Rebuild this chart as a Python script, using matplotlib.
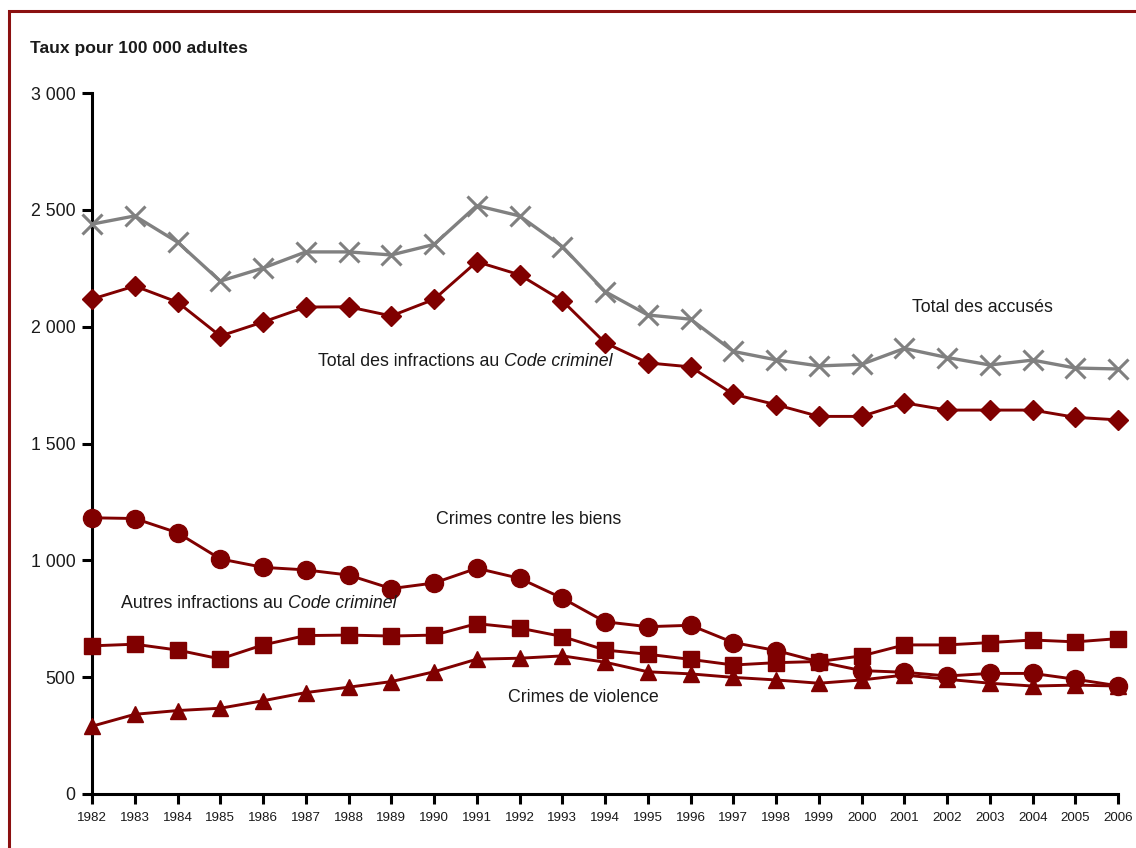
import matplotlib
import matplotlib.pyplot as plt
from matplotlib.patches import Rectangle
from matplotlib.ticker import FuncFormatter

matplotlib.use("Agg")

years = list(range(1982, 2007))

total_accuses = [2439, 2474, 2362, 2195, 2251, 2320, 2320, 2307, 2352, 2518,
                 2474, 2343, 2150, 2050, 2032, 1894, 1858, 1832, 1839, 1907,
                 1868, 1836, 1857, 1823, 1819]
total_code_criminel = [2118, 2174, 2105, 1960, 2020, 2084, 2085, 2046, 2117, 2278,
                       2222, 2111, 1931, 1845, 1828, 1711, 1666, 1616, 1616, 1674,
                       1643, 1643, 1643, 1612, 1601]
crimes_biens = [1182, 1179, 1118, 1006, 970, 959, 937, 879, 903, 966,
                923, 838, 737, 716, 722, 648, 614, 566, 528, 521,
                505, 516, 516, 491, 463]
autres_infractions = [634, 641, 616, 578, 638, 678, 680, 676, 680, 729,
                      710, 674, 616, 598, 576, 552, 562, 567, 591, 638,
                      638, 648, 659, 651, 665]
crimes_violence = [290, 341, 357, 367, 399, 434, 457, 481, 523, 577,
                   581, 591, 564, 523, 514, 499, 488, 474, 488, 509,
                   491, 474, 462, 466, 462]

y_ticks = [0, 500, 1000, 1500, 2000, 2500, 3000]

RED = "#800000"
GREY = "#808080"
TXT = "#1a1a1a"
LBL = 12.8  # taille des étiquettes de séries

plt.rcParams["font.family"] = ["Liberation Sans Narrow", "Liberation Sans", "DejaVu Sans"]

fig = plt.figure(figsize=(11.36, 8.48), dpi=100)
ax = fig.add_axes([0.081, 0.0637, 0.9033, 0.8266])

# séries
ax.plot(years, total_accuses, color=GREY, lw=2.4, marker="x", ms=14, mew=2.2, clip_on=False, zorder=3)
ax.plot(years, total_code_criminel, color=RED, lw=2.1, marker="D", ms=10, clip_on=False, zorder=3)
ax.plot(years, crimes_biens, color=RED, lw=2.1, marker="o", ms=13, clip_on=False, zorder=3)
ax.plot(years, autres_infractions, color=RED, lw=2.1, marker="s", ms=11, clip_on=False, zorder=3)
ax.plot(years, crimes_violence, color=RED, lw=2.1, marker="^", ms=12, clip_on=False, zorder=3)

ax.set_xlim(1982, 2006)
ax.set_ylim(0, 3000)
ax.set_xticks(years)
ax.set_xticklabels([str(y) for y in years])
ax.set_yticks(y_ticks)
ax.yaxis.set_major_formatter(FuncFormatter(lambda v, p: f"{int(v):,}".replace(",", " ")))

for s in ["top", "right"]:
    ax.spines[s].set_visible(False)
for s in ["left", "bottom"]:
    ax.spines[s].set_linewidth(2.2)
ax.tick_params(axis="both", direction="out", length=7, width=2.2, colors="black")
ax.tick_params(axis="x", labelsize=9.6, pad=6, labelcolor=TXT)
ax.tick_params(axis="y", labelsize=12.8, pad=5, labelcolor=TXT)

# étiquettes des séries
ax.text(2002.82, 2084, "Total des accusés", fontsize=LBL, color=TXT, ha="center", va="center")
t1 = ax.text(1987.29, 1853, "Total des infractions au ", fontsize=LBL, color=TXT, ha="left", va="center")
ax.annotate("Code criminel", xy=(1, 0.5), xycoords=t1, fontsize=LBL, color=TXT,
            style="italic", ha="left", va="center")
ax.text(1992.2, 1173, "Crimes contre les biens", fontsize=LBL, color=TXT, ha="center", va="center")
t2 = ax.text(1982.68, 817, "Autres infractions au ", fontsize=LBL, color=TXT, ha="left", va="center")
ax.annotate("Code criminel", xy=(1, 0.5), xycoords=t2, fontsize=LBL, color=TXT,
            style="italic", ha="left", va="center")
ax.text(1993.49, 411, "Crimes de violence", fontsize=LBL, color=TXT, ha="center", va="center")

# titre de l'axe y
fig.text(30 / 1136, 1 - 49 / 848, "Taux pour 100 000 adultes", fontsize=12.6,
         fontweight="bold", color=TXT, ha="left", va="center")

# cadre autour du graphique (déborde à droite et en bas)
fig.add_artist(Rectangle((9 / 1136, -0.1), 1.2, 1.1 - 11.5 / 848,
                         transform=fig.transFigure, fill=False,
                         edgecolor="#8b1010", lw=2.2, clip_on=False))

fig.savefig("out.png", dpi=100)
